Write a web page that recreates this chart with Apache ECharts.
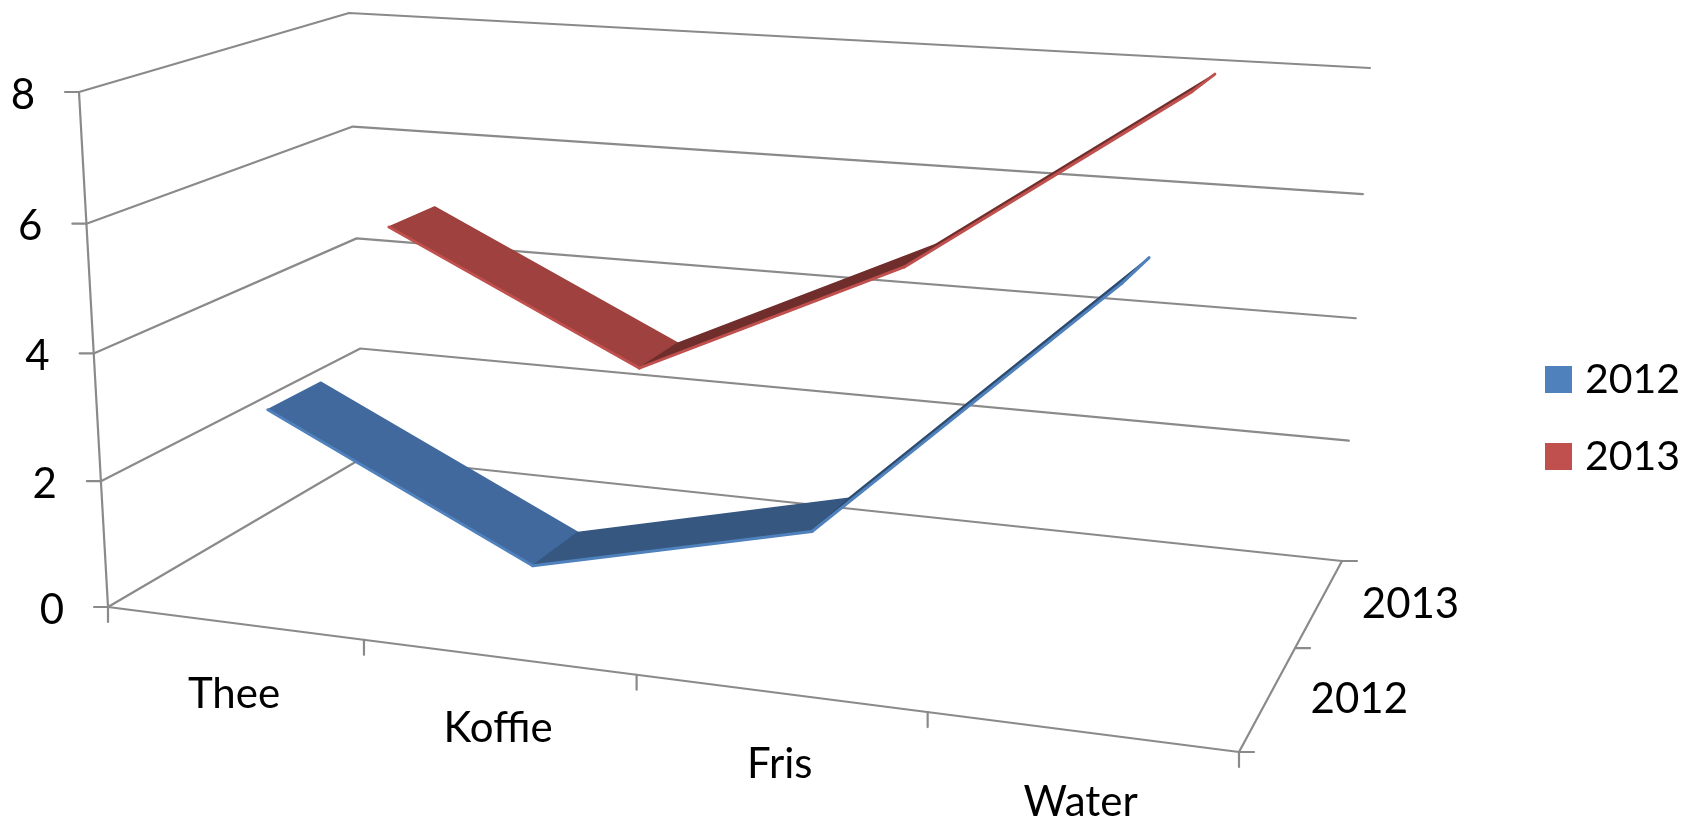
<!DOCTYPE html>
<html><head><meta charset="utf-8">
<style>html,body{margin:0;padding:0;background:#fff}#c{width:1685px;height:822px}</style>
<script src="https://cdn.jsdelivr.net/npm/echarts@6/dist/echarts.min.js"></script>
</head><body><div id="c"></div>
<script>
const categories = ['Thee','Koffie','Fris','Water'];
const seriesNames = ['2012','2013'];
const values2012 = [3, 1, 2, 6];
const values2013 = [5, 3, 5, 8];
const valueTicks = [0, 2, 4, 6, 8];
const valueMax = 8;

// perspective frame: floor and ceiling quads as [FL, FR, BR, BL] on screen
const floorQuad = [[108,607],[1239,752],[1342,561],[364,457]];
const topQuad = [[79,92],[1270,166],[1370,68],[349,13]];
const heightPerspective = 0.03;

function homography(q){
  const [p0,p1,p2,p3]=q;
  const dx1=p1[0]-p2[0],dx2=p3[0]-p2[0],sx=p0[0]-p1[0]+p2[0]-p3[0];
  const dy1=p1[1]-p2[1],dy2=p3[1]-p2[1],sy=p0[1]-p1[1]+p2[1]-p3[1];
  const d=dx1*dy2-dx2*dy1;
  const g=(sx*dy2-dx2*sy)/d,h=(dx1*sy-sx*dy1)/d;
  const a=p1[0]-p0[0]+g*p1[0],b=p3[0]-p0[0]+h*p3[0],c=p0[0];
  const e=p1[1]-p0[1]+g*p1[1],f=p3[1]-p0[1]+h*p3[1],i=p0[1];
  return (u,w)=>{const z=g*u+h*w+1;return [(a*u+b*w+c)/z,(e*u+f*w+i)/z];};
}
const floorH=homography(floorQuad), topH=homography(topQuad);
function project(u,w,v){
  const a=floorH(u,w),b=topH(u,w),s=v/valueMax,k=heightPerspective;
  const t=s*(1-k)/(1-k*s);
  return [a[0]+(b[0]-a[0])*t,a[1]+(b[1]-a[1])*t];
}
const catU=i=>(i+0.5)/categories.length;
const depthBand=[[0.145,0.345],[0.635,0.835]];
const GRID='#8a8a8a', FONT='42px Lato';

function line(api,pts,color,width){
  return {type:'polyline',shape:{points:pts.map(p=>api.coord(p))},style:{stroke:color,lineWidth:width,fill:null,lineJoin:'round',lineCap:'round'},silent:true};
}
function label(api,p,text,align){
  const c=api.coord(p);
  return {type:'text',style:{text,x:c[0],y:c[1],fill:'#000',font:FONT,align:align||'center',verticalAlign:'middle'},silent:true};
}
function ribbon(name,values,band,faces,edge,z){
  const data=[];
  for(let i=0;i<values.length-1;i++) data.push([i,values[i],values[i+1]]);
  return {type:'custom',name,coordinateSystem:'cartesian2d',z,clip:false,data,
    itemStyle:{color:edge},
    renderItem(params,api){
      const i=api.value(0),a=api.value(1),b=api.value(2);
      const [w0,w1]=depthBand[band];
      const f0=project(catU(i),w0,a),f1=project(catU(i+1),w0,b);
      const b0=project(catU(i),w1,a),b1=project(catU(i+1),w1,b);
      const ch=[
        {type:'polygon',shape:{points:[f0,f1,b1,b0].map(p=>api.coord(p))},style:{fill:faces[i],stroke:faces[i],lineWidth:1.5,lineJoin:'round'},silent:true},
        line(api,[f0,f1],edge,3)
      ];
      if(i===values.length-2) ch.push(line(api,[f1,b1],edge,3));
      return {type:'group',children:ch};
    }};
}

const frameValue={type:'custom',z:1,clip:false,coordinateSystem:'cartesian2d',silent:true,
  data:valueTicks.map(v=>[v]),
  renderItem(params,api){
    const v=api.value(0);
    const fl=project(0,0,v),bl=project(0,1,v),br=project(1,1,v);
    return {type:'group',children:[
      line(api,[fl,bl,br],GRID,2.2),
      line(api,[[fl[0]-14,fl[1]],fl],GRID,2.2),
      label(api,[fl[0]-44,fl[1]+3],String(v),'right')
    ]};
  }};
const frameCat={type:'custom',z:1,clip:false,coordinateSystem:'cartesian2d',silent:true,
  data:[0,1,2,3,4].map(i=>[i]),
  renderItem(params,api){
    const i=api.value(0),u=i/categories.length,p=project(u,0,0);
    const ch=[line(api,[p,[p[0],p[1]+15]],GRID,2.2)];
    if(i<categories.length){const c=project(catU(i),0,0);ch.push(label(api,[c[0],c[1]+71],categories[i]));}
    return {type:'group',children:ch};
  }};
const frameDepth={type:'custom',z:1,clip:false,coordinateSystem:'cartesian2d',silent:true,
  data:[0,1,2].map(i=>[i]),
  renderItem(params,api){
    const i=api.value(0),w=i/2,p=project(1,w,0);
    const ch=[line(api,[p,[p[0]+15,p[1]]],GRID,2.2)];
    if(i<2){const c=project(1,(i+0.5)/2,0);ch.push(label(api,[c[0]+91,c[1]+2],seriesNames[i]));}
    return {type:'group',children:ch};
  }};
const frameAxes={type:'custom',z:1,clip:false,coordinateSystem:'cartesian2d',silent:true,
  data:[[0]],
  renderItem(params,api){
    return {type:'group',children:[
      line(api,[project(0,0,valueMax),project(0,0,0)],GRID,2.2),
      line(api,[project(0,0,0),project(1,0,0),project(1,1,0)],GRID,2.2)
    ]};
  }};

const chart=echarts.init(document.getElementById('c'),null,{renderer:'canvas'});
chart.setOption({
  animation:false,backgroundColor:'#fff',
  grid:{left:0,right:0,top:0,bottom:0},
  xAxis:{type:'value',min:0,max:1685,show:false},
  yAxis:{type:'value',min:0,max:822,inverse:true,show:false},
  legend:{left:1545,top:359,padding:0,orient:'vertical',icon:'rect',itemWidth:27,itemHeight:27,itemGap:36,
    textStyle:{fontFamily:'Lato',fontSize:41,color:'#000',padding:[0,0,0,8]},
    data:seriesNames,selectedMode:false},
  series:[frameValue,frameCat,frameDepth,frameAxes,
    ribbon(seriesNames[1],values2013,1,['#9f413e','#6f2e2c','#6f2e2c'],'#c0504d',3),
    ribbon(seriesNames[0],values2012,0,['#41699e','#365780','#2c4a6e'],'#4f81bd',4)
  ]
});
</script></body></html>
